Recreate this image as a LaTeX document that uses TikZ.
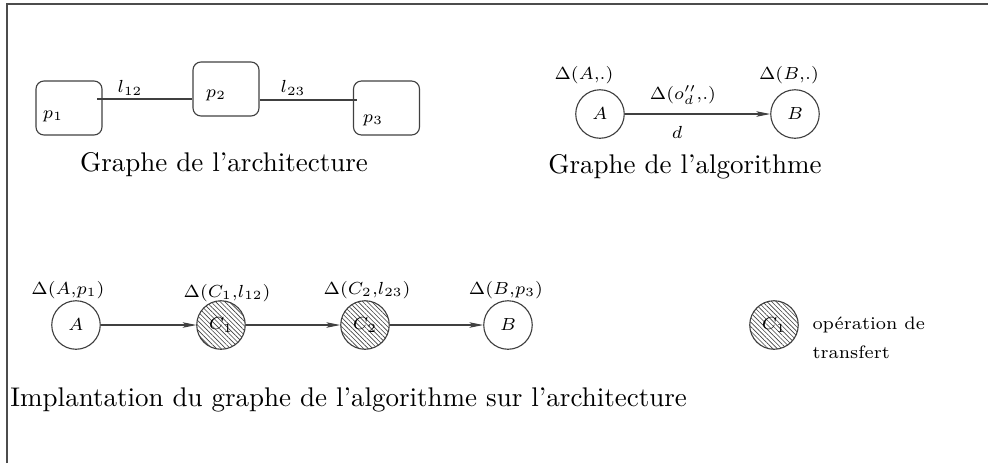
\documentclass[tikz,border=0pt]{standalone}
\usetikzlibrary{patterns,patterns.meta,arrows.meta}
\begin{document}
\begin{tikzpicture}[x=0.4pt,y=-0.4pt,
  every node/.style={inner sep=0pt},
  ln/.style={draw=black!75, line width=0.45pt},
  arr/.style={ln, -{Stealth[length=5.5pt,width=2.2pt,inset=1.2pt]}},
  proc/.style={ln, rounded corners=3.2pt, minimum width=26.4pt, minimum height=21.6pt},
  circ/.style={ln, circle, minimum size=19.4pt},
  hcirc/.style={circ, pattern={Lines[angle=-45,distance=1.3pt,line width=0.25pt]}, pattern color=black!75},
  sm/.style={font=\fontsize{7.4}{9}\selectfont},
  ttl/.style={font=\fontsize{10.8}{13}\selectfont},
  leg/.style={font=\fontsize{7.2}{9}\selectfont, anchor=west}]
\useasboundingbox (0,0) rectangle (988,463);
\draw[black!70, line width=0.5pt] (7,463) -- (7,4) -- (988,4);
% architecture
\node[proc] (p1) at (69,108) {};
\node[proc] (p2) at (226,89) {};
\node[proc] (p3) at (386.5,108) {};
\node[sm] (tp1) at (53,116) {$p_1$};
\node[sm] (tp2) at (216,95) {$p_2$};
\node[sm] (tp3) at (373,120) {$p_3$};
\coordinate (c12) at (97,99);
\coordinate (c23) at (357,100);
\draw[ln] (c12) -- (p2.west |- c12);
\draw[ln] (p2.east |- c23) -- (c23);
\node[sm] (l12) at (130,88) {$l_{12}$};
\node[sm] (l23) at (293,88) {$l_{23}$};
\node[ttl] (t1) at (224,165) {Graphe de l'architecture};
% algorithme
\node[circ,sm] (A) at (600,114) {\raisebox{-4pt}{$A$}};
\node[circ,sm] (B) at (795,114) {\raisebox{-4pt}{$B$}};
\node[sm] (dA) at (584,75) {$\Delta(A{,}.)$};
\node[sm] (dB) at (789,75) {$\Delta(B{,}.)$};
\draw[arr] (A) -- (B);
\node[sm] (dd) at (683,95) {$\Delta(o''_d{,}.)$};
\node[sm] (d) at (677,132) {$d$};
\node[ttl] (t2) at (685,167) {Graphe de l'algorithme};
% implantation
\node[circ,sm] (IA) at (76,325) {\raisebox{-4pt}{$A$}};
\node[hcirc,sm] (IC1) at (221,325) {\raisebox{-4pt}{$C_1$}};
\node[hcirc,sm] (IC2) at (365,325) {\raisebox{-4pt}{$C_2$}};
\node[circ,sm] (IB) at (508,325) {\raisebox{-4pt}{$B$}};
\node[sm] (dIA) at (68,290) {$\Delta(A{,}p_1)$};
\node[sm] (dIC1) at (227,293) {$\Delta(C_1{,}l_{12})$};
\node[sm] (dIC2) at (367,290) {$\Delta(C_2{,}l_{23})$};
\node[sm] (dIB) at (506,290) {$\Delta(B{,}p_3)$};
\draw[arr] (IA) -- (IC1);
\draw[arr] (IC1) -- (IC2);
\draw[arr] (IC2) -- (IB);
% legende
\node[hcirc,sm] (LC) at (774,325) {\raisebox{-4pt}{$C_1$}};
\node[leg] (lg1) at (812,325) {op\'eration de};
\node[leg] (lg2) at (812,352) {transfert};
\node[ttl, anchor=west] (t3) at (10,400) {Implantation du graphe de l'algorithme sur l'architecture};
\end{tikzpicture}
\end{document}
